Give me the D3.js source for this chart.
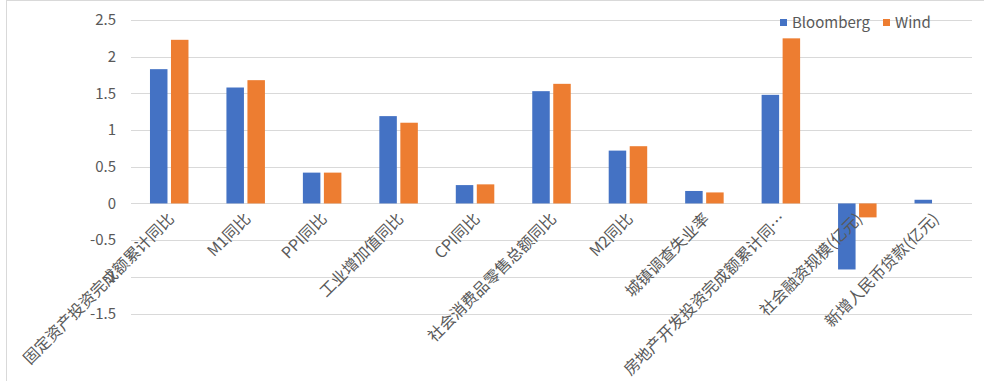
<!DOCTYPE html>
<html>
<head>
<meta charset="utf-8">
<script src="https://cdn.jsdelivr.net/npm/d3@7"></script>
<style>
  body { margin: 0; background: #fff; }
  text { font-family: "Noto Sans CJK SC", "Noto Sans", sans-serif; fill: #595959; }
</style>
</head>
<body>
<div id="wrap"></div>
<script>
//  Category names along the x axis
const categories = [
  "固定资产投资完成额累计同比",
  "M1同比",
  "PPI同比",
  "工业增加值同比",
  "CPI同比",
  "社会消费品零售总额同比",
  "M2同比",
  "城镇调查失业率",
  "房地产开发投资完成额累计同…",
  "社会融资规模(亿元)",
  "新增人民币贷款(亿元)",
];

//  Series values
const bloomberg = [1.83, 1.58, 0.42, 1.19, 0.25, 1.53, 0.72, 0.17, 1.48, -0.9, 0.05];
const wind = [2.23, 1.68, 0.42, 1.1, 0.26, 1.63, 0.78, 0.15, 2.25, -0.19, 0];

const seriesNames = ["Bloomberg", "Wind"];
const seriesColors = ["#4472C4", "#ED7D31"];
const yTicks = [-1.5, -1, -0.5, 0, 0.5, 1, 1.5, 2, 2.5];

const W = 984, H = 381;
const plot = { left: 131, right: 972, top: 20, bottom: 313.5 };

const svg = d3.select("#wrap").append("svg")
  .attr("width", W).attr("height", H);

//  light frame round the whole chart
svg.append("rect")
  .attr("x", 6.5).attr("y", 0.5)
  .attr("width", W + 10).attr("height", H + 10)
  .attr("fill", "none").attr("stroke", "#d9d9d9");

const x = d3.scaleBand().domain(categories).range([plot.left, plot.right]);
const y = d3.scaleLinear().domain([-1.5, 2.5]).range([plot.bottom, plot.top]);

//  gridlines
svg.append("g").selectAll("line")
  .data(yTicks).enter().append("line")
  .attr("x1", plot.left).attr("x2", plot.right)
  .attr("y1", (d) => Math.round(y(d)) + 0.5)
  .attr("y2", (d) => Math.round(y(d)) + 0.5)
  .attr("stroke", "#d9d9d9").attr("stroke-width", 1);

//  y axis labels
svg.append("g").selectAll("text")
  .data(yTicks).enter().append("text")
  .attr("x", 116)
  .attr("y", (d) => y(d))
  .attr("dy", "0.35em")
  .attr("text-anchor", "end")
  .style("font-size", "15px")
  .text((d) => d);

//  bars
const barW = 17.5, innerGap = 3.5;
const series = [bloomberg, wind];
series.forEach((vals, si) => {
  svg.append("g").selectAll("rect")
    .data(vals).enter().append("rect")
    .attr("x", (d, i) => {
      const c = x(categories[i]) + x.bandwidth() / 2;
      return si === 0 ? c - innerGap / 2 - barW : c + innerGap / 2;
    })
    .attr("width", barW)
    .attr("y", (d) => y(Math.max(0, d)))
    .attr("height", (d) => Math.abs(y(d) - y(0)))
    .attr("fill", seriesColors[si]);
});

//  rotated category labels
svg.append("g").selectAll("text")
  .data(categories).enter().append("text")
  .attr("transform", (d) => {
    const c = x(d) + x.bandwidth() / 2;
    return "translate(" + (c + 2) + "," + 216 + ") rotate(-45)";
  })
  .attr("text-anchor", "end")
  .attr("dy", "0.35em")
  .style("font-size", "15.8px")
  .text((d) => d);

//  legend
const legend = svg.append("g");
const legendX = [780, 883];
seriesNames.forEach((name, i) => {
  legend.append("rect")
    .attr("x", legendX[i]).attr("y", 19)
    .attr("width", 7).attr("height", 7)
    .attr("fill", seriesColors[i]);
  legend.append("text")
    .attr("x", legendX[i] + 12).attr("y", 23)
    .attr("dy", "0.35em")
    .style("font-size", "15px")
    .text(name);
});
</script>
</body>
</html>
